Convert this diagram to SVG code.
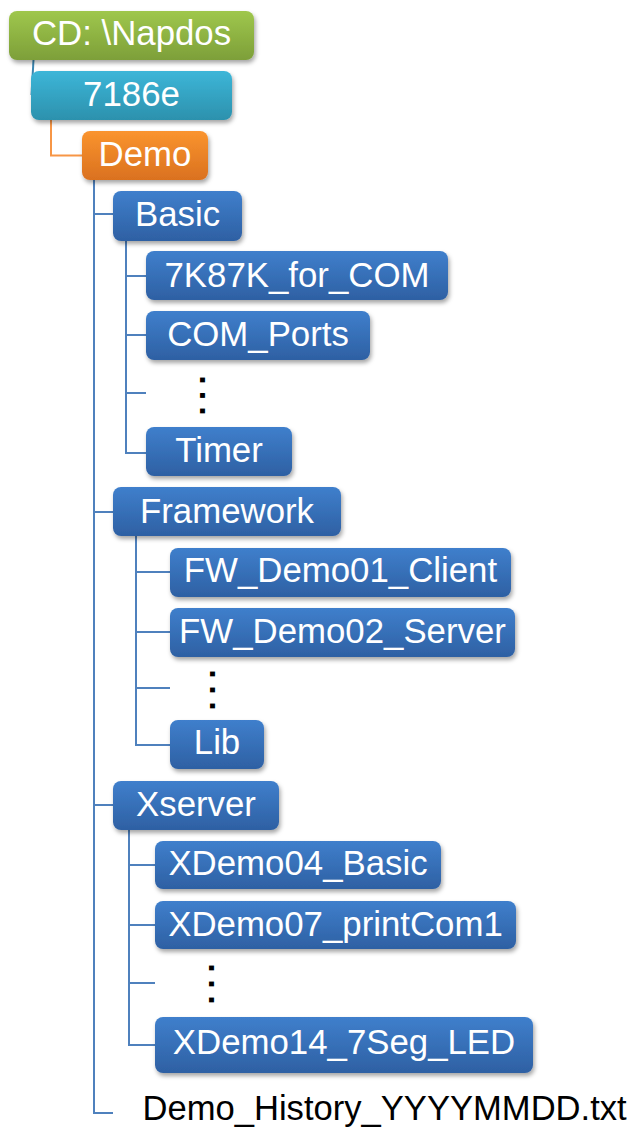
<svg xmlns="http://www.w3.org/2000/svg" width="635" height="1128" viewBox="0 0 635 1128">
<defs>
<linearGradient id="gGreen" x1="0" y1="0" x2="0" y2="1"><stop offset="0" stop-color="#9FC74C"/><stop offset="1" stop-color="#7D9F39"/></linearGradient>
<linearGradient id="gCyan" x1="0" y1="0" x2="0" y2="1"><stop offset="0" stop-color="#3DB6D8"/><stop offset="1" stop-color="#2C91AD"/></linearGradient>
<linearGradient id="gOrange" x1="0" y1="0" x2="0" y2="1"><stop offset="0" stop-color="#FA942E"/><stop offset="1" stop-color="#DA711F"/></linearGradient>
<linearGradient id="gBlue" x1="0" y1="0" x2="0" y2="1"><stop offset="0" stop-color="#3F7FCC"/><stop offset="1" stop-color="#2E60A3"/></linearGradient>
<filter id="sh" x="-10%" y="-20%" width="125%" height="160%"><feDropShadow dx="1.5" dy="3" stdDeviation="2" flood-color="#000" flood-opacity="0.35"/></filter>
</defs>
<style>
.box{filter:url(#sh)}
.lbl{font-family:"Liberation Sans",Arial,sans-serif;font-size:34.8px;fill:#fff;text-anchor:middle}
.dots{font-family:"Liberation Sans",Arial,sans-serif;font-size:34px;font-weight:bold;fill:#000}
.file{font-family:"Liberation Sans",Arial,sans-serif;font-size:34.6px;fill:#000}
.ln{fill:none;stroke:#4F81BD;stroke-width:2}
</style>
<g id="connectors">
<line x1="33.5" y1="60" x2="31.5" y2="95" stroke="#3A86B0" stroke-width="2"/>
<polyline points="51,120 51,155.5 82,155.5" fill="none" stroke="#F79646" stroke-width="2"/>
<polyline class="ln" points="94,180 94,1113 113,1113"/>
<line class="ln" x1="94" y1="214" x2="113" y2="214"/>
<line class="ln" x1="94" y1="512" x2="113" y2="512"/>
<line class="ln" x1="94" y1="805" x2="113" y2="805"/>
<polyline class="ln" points="126,241 126,453 146,453"/>
<line class="ln" x1="126" y1="276" x2="146" y2="276"/>
<line class="ln" x1="126" y1="335" x2="146" y2="335"/>
<line class="ln" x1="126" y1="393" x2="146" y2="393"/>
<polyline class="ln" points="136,536 136,745 170,745"/>
<line class="ln" x1="136" y1="572" x2="170" y2="572"/>
<line class="ln" x1="136" y1="632" x2="170" y2="632"/>
<line class="ln" x1="136" y1="688" x2="170" y2="688"/>
<polyline class="ln" points="129,830 129,1045 155,1045"/>
<line class="ln" x1="129" y1="865" x2="155" y2="865"/>
<line class="ln" x1="129" y1="925" x2="155" y2="925"/>
<line class="ln" x1="129" y1="983" x2="155" y2="983"/>
</g>
<g id="n-cd"><rect class="box" x="9" y="11" width="245" height="49" rx="8" fill="url(#gGreen)"/><text class="lbl" x="131.5" y="45">CD: \Napdos</text></g>
<g id="n-7186e"><rect class="box" x="31" y="71" width="201" height="49" rx="8" fill="url(#gCyan)"/><text class="lbl" x="131.5" y="106">7186e</text></g>
<g id="n-demo"><rect class="box" x="82" y="131" width="126" height="49" rx="8" fill="url(#gOrange)"/><text class="lbl" x="145" y="166">Demo</text></g>
<g id="n-basic"><rect class="box" x="113" y="191" width="129" height="50" rx="8" fill="url(#gBlue)"/><text class="lbl" x="177.5" y="226">Basic</text></g>
<g id="n-7k87k"><rect class="box" x="146" y="251" width="302" height="49" rx="8" fill="url(#gBlue)"/><text class="lbl" x="297" y="287">7K87K_for_COM</text></g>
<g id="n-comports"><rect class="box" x="146" y="311" width="224" height="49" rx="8" fill="url(#gBlue)"/><text class="lbl" x="258" y="346">COM_Ports</text></g>
<g id="n-dots1"><text class="dots" letter-spacing="6" transform="translate(199.6,375.3) rotate(90)">...</text></g>
<g id="n-timer"><rect class="box" x="146" y="427" width="146" height="49" rx="8" fill="url(#gBlue)"/><text class="lbl" x="219" y="462">Timer</text></g>
<g id="n-framework"><rect class="box" x="113" y="487" width="228" height="49" rx="8" fill="url(#gBlue)"/><text class="lbl" x="227" y="523">Framework</text></g>
<g id="n-fw1"><rect class="box" x="170" y="548" width="341" height="49" rx="8" fill="url(#gBlue)"/><text class="lbl" x="340.5" y="582">FW_Demo01_Client</text></g>
<g id="n-fw2"><rect class="box" x="170" y="608" width="345" height="49" rx="8" fill="url(#gBlue)"/><text class="lbl" x="342.5" y="643">FW_Demo02_Server</text></g>
<g id="n-dots2"><text class="dots" letter-spacing="6.5" transform="translate(209.6,669.3) rotate(90)">...</text></g>
<g id="n-lib"><rect class="box" x="170" y="720" width="94" height="49" rx="8" fill="url(#gBlue)"/><text class="lbl" x="217" y="754">Lib</text></g>
<g id="n-xserver"><rect class="box" x="113" y="781" width="166" height="49" rx="8" fill="url(#gBlue)"/><text class="lbl" x="196" y="816">Xserver</text></g>
<g id="n-x4"><rect class="box" x="155" y="841" width="286" height="48" rx="8" fill="url(#gBlue)"/><text class="lbl" x="298" y="875">XDemo04_Basic</text></g>
<g id="n-x7"><rect class="box" x="155" y="901" width="361" height="48" rx="8" fill="url(#gBlue)"/><text class="lbl" x="335.5" y="936">XDemo07_printCom1</text></g>
<g id="n-dots3"><text class="dots" letter-spacing="6.5" transform="translate(208.6,963.3) rotate(90)">...</text></g>
<g id="n-x14"><rect class="box" x="155" y="1017" width="378" height="56" rx="8" fill="url(#gBlue)"/><text class="lbl" x="344" y="1054">XDemo14_7Seg_LED</text></g>
<g id="n-history"><text class="file" x="142.5" y="1120">Demo_History_YYYYMMDD.txt</text></g>
</svg>
